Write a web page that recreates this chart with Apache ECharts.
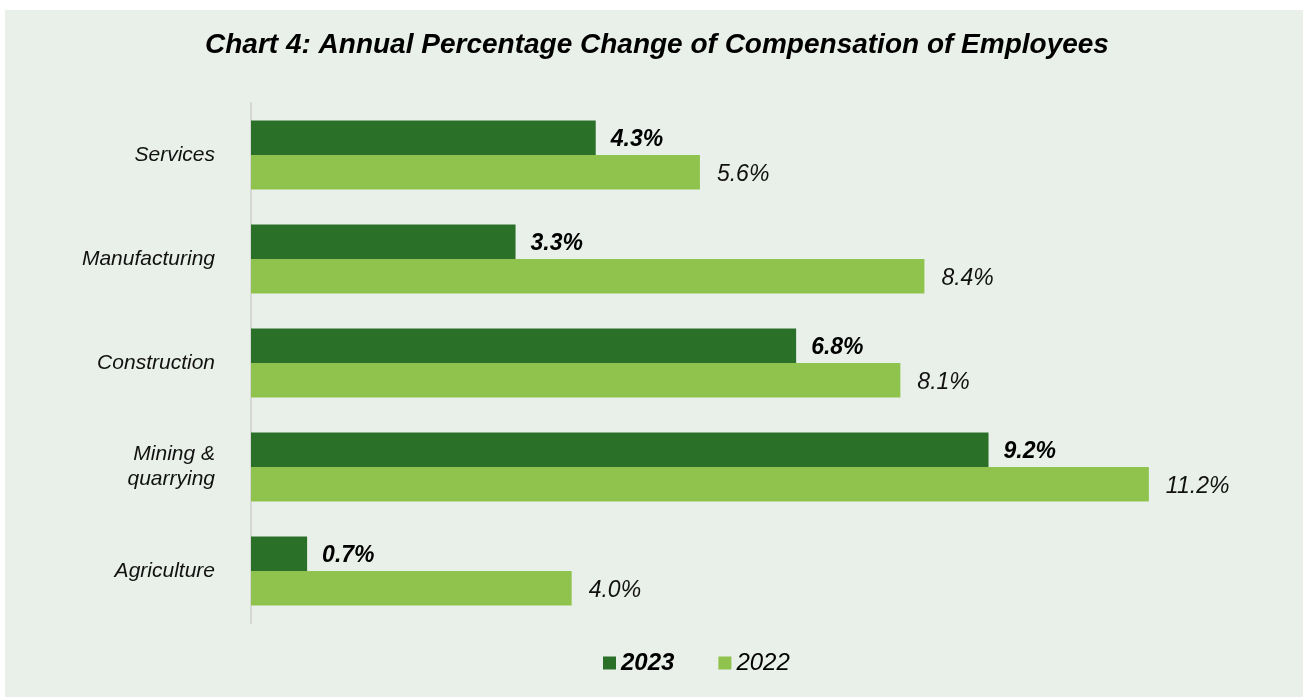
<!DOCTYPE html>
<html>
<head>
<meta charset="utf-8">
<script src="https://cdn.jsdelivr.net/npm/echarts@6/dist/echarts.min.js"></script>
<style>
html,body{margin:0;padding:0;background:#ffffff;}
#c{width:1303px;height:697px;}
</style>
</head>
<body>
<div id="c"></div>
<script>
const categories = ['Agriculture', 'Mining &\nquarrying', 'Construction', 'Manufacturing', 'Services'];
const values2023 = [0.7, 9.2, 6.8, 3.3, 4.3];
const values2022 = [4.0, 11.2, 8.1, 8.4, 5.6];
const seriesNames = ['2023', '2022'];
const titleText = 'Chart 4: Annual Percentage Change of Compensation of Employees';
const FONT = 'Arial, "Liberation Sans", sans-serif';

const chart = echarts.init(document.getElementById('c'));
chart.setOption({
  backgroundColor: '#ffffff',
  animation: false,
  graphic: [{
    type: 'rect', left: 5, top: 10, z: -10,
    shape: { width: 1298, height: 687 },
    style: { fill: '#E9F0E9' }
  }],
  title: {
    text: titleText,
    left: 200, top: 26,
    textStyle: { fontFamily: FONT, fontSize: 28, fontWeight: 'bold', fontStyle: 'italic', color: '#000' }
  },
  legend: {
    bottom: 17, left: 598,
    itemWidth: 13, itemHeight: 13, itemGap: 44,
    icon: 'rect',
    data: [
      { name: seriesNames[0], textStyle: { fontWeight: 'bold' } },
      { name: seriesNames[1] }
    ],
    textStyle: { fontFamily: FONT, fontSize: 24, fontStyle: 'italic', color: '#000' }
  },
  grid: { left: 251, top: 103, height: 520, width: 962, containLabel: false },
  xAxis: {
    type: 'value', min: 0, max: 12,
    show: false
  },
  yAxis: {
    type: 'category', data: categories,
    axisLine: { show: true, lineStyle: { color: '#D6D6D6', width: 2 } },
    axisTick: { show: false },
    axisLabel: { margin: 36, fontFamily: FONT, fontSize: 21, fontStyle: 'italic', color: '#111', lineHeight: 25, padding: [5, 0, 0, 0] }
  },
  series: [
    {
      name: seriesNames[0], type: 'bar', data: values2023,
      barWidth: 34.5, barGap: '0%', barCategoryGap: '33.6%',
      itemStyle: { color: '#2A7029' },
      label: { show: true, position: 'right', distance: 15, offset: [0, 2],
        formatter: p => p.value.toFixed(1) + '%',
        fontFamily: FONT, fontSize: 23, fontStyle: 'italic', fontWeight: 'bold', color: '#000' }
    },
    {
      name: seriesNames[1], type: 'bar', data: values2022,
      barWidth: 34.5, barGap: '0%', barCategoryGap: '33.6%',
      itemStyle: { color: '#8FC34D' },
      label: { show: true, position: 'right', distance: 17, offset: [0, 2],
        formatter: p => p.value.toFixed(1) + '%',
        fontFamily: FONT, fontSize: 23, fontStyle: 'italic', color: '#111' }
    }
  ]
});
</script>
</body>
</html>
